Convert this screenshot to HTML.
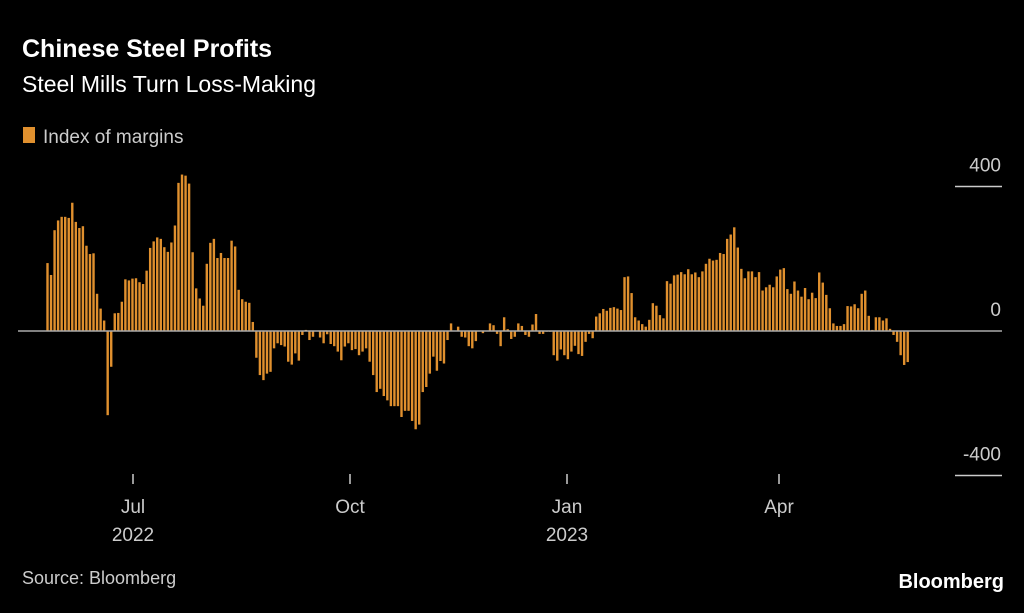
<!DOCTYPE html>
<html><head><meta charset="utf-8"><style>
html,body{margin:0;padding:0;background:#000;}
body{width:1024px;height:608px;overflow:hidden;position:relative;font-family:"Liberation Sans",sans-serif;}
</style></head><body>
<svg width="1024" height="608" viewBox="0 0 1024 608" xmlns="http://www.w3.org/2000/svg">
<text x="22" y="57" fill="#fff" font-size="25" font-weight="bold">Chinese Steel Profits</text>
<text x="22" y="92" fill="#fff" font-size="23">Steel Mills Turn Loss-Making</text>
<rect x="23" y="127" width="12" height="16" fill="#e0902e"/>
<text x="43" y="143" fill="#ccc" font-size="19">Index of margins</text>
<g id="ticks"></g>
<g id="bars"></g>
<line x1="18" y1="331" x2="1002" y2="331" stroke="#aaa" stroke-width="1.5"/>
<text x="22" y="584" fill="#ccc" font-size="18">Source: Bloomberg</text>
<text x="1004" y="588" fill="#fff" font-size="20" font-weight="bold" text-anchor="end">Bloomberg</text>
</svg>
<script>
const values = [188,155,279,306,316,316,313,355,302,285,290,236,213,215,103,62,29,-233,-99,49,50,81,143,140,145,146,135,130,167,230,248,259,255,232,219,245,292,410,433,430,408,218,118,90,70,186,244,255,202,216,202,202,250,234,114,88,81,78,25,
-74,-122,-136,-118,-113,-48,-34,-39,-43,-85,-93,-62,-82,-11,3,-25,-16,0,-18,-34,-9,-36,-42,-57,-81,-43,-34,-53,-50,-67,-57,-48,-85,-122,-169,-160,-180,-192,-208,-208,-208,-238,-221,-221,-249,-272,-259,-169,-155,-118,-71,-110,-83,-90,-25,21,
0,12,-16,-18,-42,-48,-28,0,-6,0,21,16,-8,-42,38,5,-22,-16,21,14,-11,-16,18,47,-8,-8,-2,-2,-67,-82,-51,-67,-78,-57,-41,-64,-69,-30,-8,-20,
40,49,61,56,64,66,62,58,149,151,105,38,29,19,12,31,77,70,44,35,138,131,154,156,163,157,171,157,162,149,165,186,200,195,197,216,213,255,267,287,231,172,146,165,165,149,163,112,121,128,121,151,170,174,116,103,137,112,95,119,88,106,91,162,134,100,63,21,14,14,19,69,68,74,63,103,112,42,3,38,38,29,35,6,-11,-30,-67,-94,-86];
const yTicks = [400,0,-400];
const yTickLabels = ["400","0","-400"];
const monthLabels = ["Jul","Oct","Jan","Apr"];
const yearLabels = ["2022","","2023",""];
const monthX = [133,350,567,779];
const NS="http://www.w3.org/2000/svg";
function y(v){return 331 - v*0.3613;}
function x(i){return 47.5 + i*3.54;}
const bars=document.getElementById('bars');
values.forEach((v,i)=>{
  const r=document.createElementNS(NS,'rect');
  r.setAttribute('x',(x(i)-1.2).toFixed(2));
  r.setAttribute('width','2.4');
  r.setAttribute('y',Math.min(y(v),331).toFixed(2));
  r.setAttribute('height',Math.abs(y(v)-331).toFixed(2));
  r.setAttribute('fill','#e0902e');
  
  
  bars.appendChild(r);
});
const tg=document.getElementById('ticks');
yTicks.forEach((t,k)=>{
  if(t!==0){
    const l=document.createElementNS(NS,'line');
    l.setAttribute('x1','955');l.setAttribute('x2','1002');
    l.setAttribute('y1',y(t));l.setAttribute('y2',y(t));
    l.setAttribute('stroke','#ccc');l.setAttribute('stroke-width','1.5');
    
    
    tg.appendChild(l);
  }
  const tx=document.createElementNS(NS,'text');
  tx.setAttribute('x','1001');tx.setAttribute('y',y(t)-15);
  tx.setAttribute('text-anchor','end');tx.setAttribute('fill','#ccc');tx.setAttribute('font-size','19');
  tx.textContent=yTickLabels[k];
  
  
  tg.appendChild(tx);
});
monthLabels.forEach((m,k)=>{
  const l=document.createElementNS(NS,'line');
  l.setAttribute('x1',monthX[k]);l.setAttribute('x2',monthX[k]);
  l.setAttribute('y1','474');l.setAttribute('y2','484');
  l.setAttribute('stroke','#ccc');l.setAttribute('stroke-width','1.5');
  
  
  tg.appendChild(l);
  const t=document.createElementNS(NS,'text');
  t.setAttribute('x',monthX[k]);t.setAttribute('y','513');
  t.setAttribute('text-anchor','middle');t.setAttribute('fill','#ccc');t.setAttribute('font-size','19');
  t.textContent=m;
  
  
  tg.appendChild(t);
  if(yearLabels[k]){
    const t2=document.createElementNS(NS,'text');
    t2.setAttribute('x',monthX[k]);t2.setAttribute('y','541');
    t2.setAttribute('text-anchor','middle');t2.setAttribute('fill','#ccc');t2.setAttribute('font-size','19');
    t2.textContent=yearLabels[k];
    
    
    tg.appendChild(t2);
  }
});
</script>
</body></html>
